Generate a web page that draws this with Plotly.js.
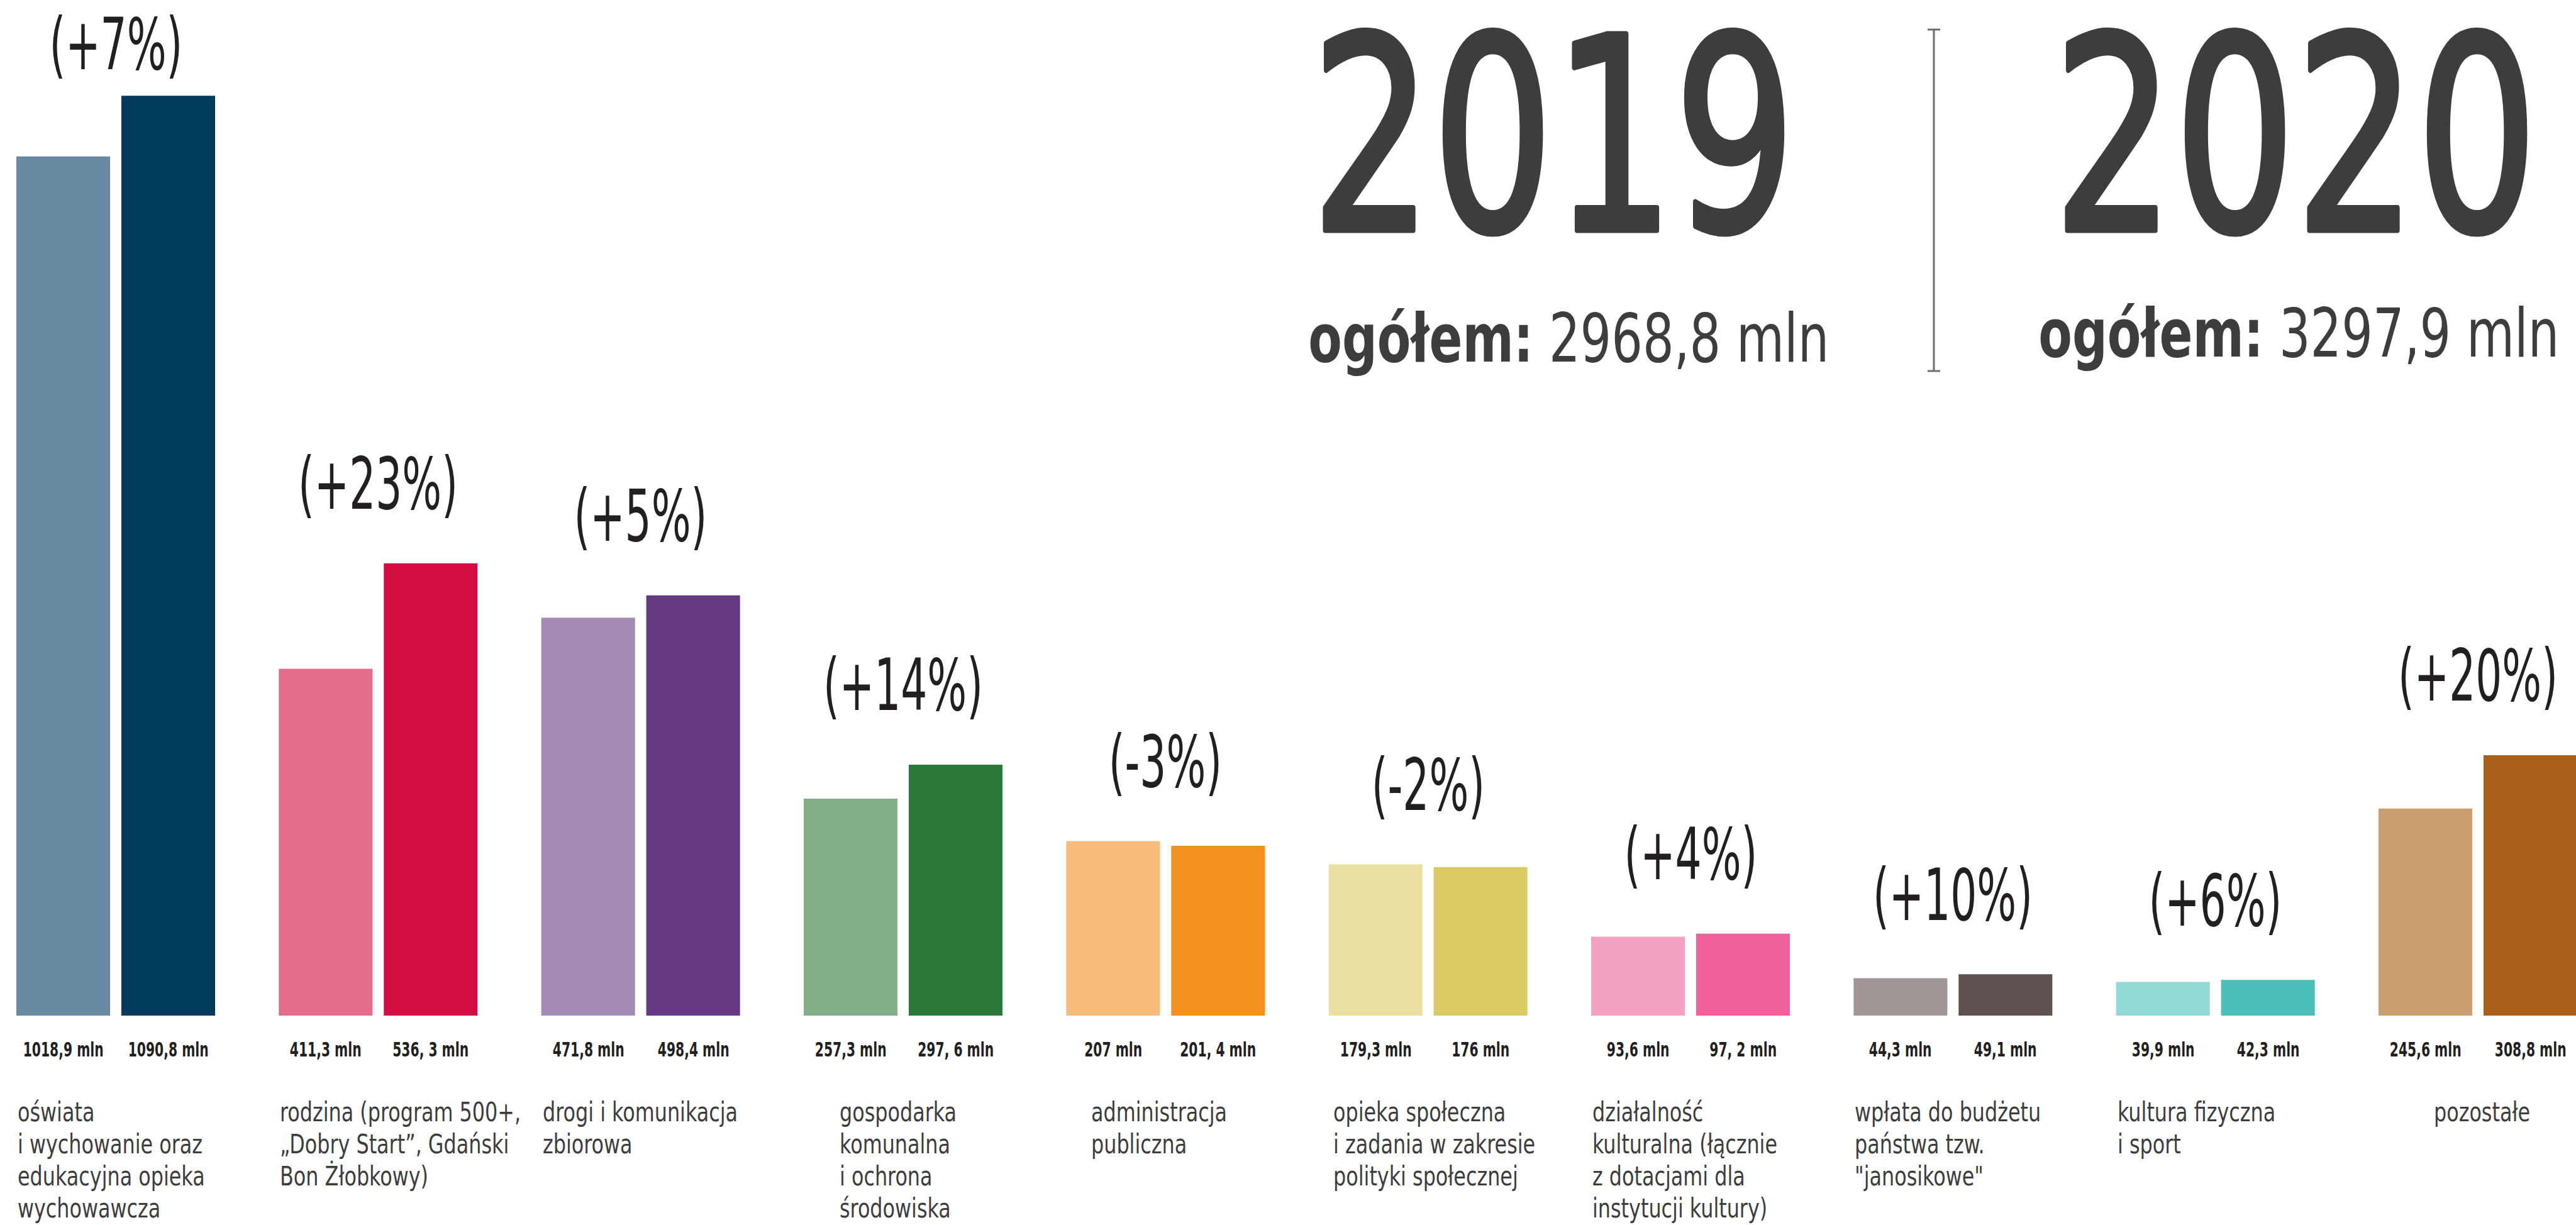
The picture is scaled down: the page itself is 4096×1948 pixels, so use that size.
<!DOCTYPE html>
<html>
<head>
<meta charset="utf-8">
<script src="https://cdn.plot.ly/plotly-3.0.1.min.js"></script>
<style>html,body{margin:0;padding:0;background:#fff;overflow:hidden}</style>
</head>
<body>
<div id="chart"></div>
<script>
// ---- DATA ----
const categories = [
  'oświata<br>i wychowanie oraz<br>edukacyjna opieka<br>wychowawcza',
  'rodzina (program 500+,<br>„Dobry Start”, Gdański<br>Bon Żłobkowy)',
  'drogi i komunikacja<br>zbiorowa',
  'gospodarka<br>komunalna<br>i ochrona<br>środowiska',
  'administracja<br>publiczna',
  'opieka społeczna<br>i zadania w zakresie<br>polityki społecznej',
  'działalność<br>kulturalna (łącznie<br>z dotacjami dla<br>instytucji kultury)',
  'wpłata do budżetu<br>państwa tzw.<br>"janosikowe"',
  'kultura fizyczna<br>i sport',
  'pozostałe'
];
const values2019 = [1018.9, 411.3, 471.8, 257.3, 207, 179.3, 93.6, 44.3, 39.9, 245.6];
const values2020 = [1090.8, 536.3, 498.4, 297.6, 201.4, 176, 97.2, 49.1, 42.3, 308.8];
const labels2019 = ['1018,9 mln','411,3 mln','471,8 mln','257,3 mln','207 mln','179,3 mln','93,6 mln','44,3 mln','39,9 mln','245,6 mln'];
const labels2020 = ['1090,8 mln','536, 3 mln','498,4 mln','297, 6 mln','201, 4 mln','176 mln','97, 2 mln','49,1 mln','42,3 mln','308,8 mln'];
const changes = ['(+7%)','(+23%)','(+5%)','(+14%)','(-3%)','(-2%)','(+4%)','(+10%)','(+6%)','(+20%)'];
const years = ['2019', '2020'];
const totals = ['2968,8 mln', '3297,9 mln'];
const colors2019 = ['#6889A0','#E46E8D','#A38BB5','#82AF88','#F7BB7A','#E8DFA0','#F4A0C2','#9F9695','#93D9D6','#CC9F73'];
const colors2020 = ['#003A5C','#D30E42','#663A82','#2A7837','#F58F20','#DACA63','#EF619B','#5E514F','#4BBFB8','#A8601B'];

// ---- LAYOUT / STYLE ----
const W = 4096, H = 1948;
const plotBottom = 1615;           // px from top where bars start
const pxPerMln = 1.341;
const yMax = plotBottom / pxPerMln;
const firstCenter = 184, lastCenter = 3940;
const pxPerUnit = (lastCenter - firstCenter) / (categories.length - 1);
const xRange = [-firstCenter / pxPerUnit, (W - firstCenter) / pxPerUnit];
const bargap = 0.2, bargroupgap = 0.107;
const slot = (1 - bargap) / 2;
const barW = slot * (1 - bargroupgap);
const barCenterShift = slot / 2 * pxPerUnit;
const barLeftShift = -(slot / 2 + barW / 2) * pxPerUnit;
const labelIndent = [0, 0, 0, 55, 38, 5, 0, 0, 0, 86];

const FONT = "'Noto Sans ExtraCondensed', 'Noto Sans Condensed', 'DejaVu Sans Condensed', 'Roboto', sans-serif";
const DARK = '#231f20', GREY = '#3d3d3d';

// target horizontal widths (px) of one sample text per text style, to condense the glyphs
const condense = {
  pct:   { sample: '(+10%)', width: 254 },
  val:   { sample: '1018,9 mln', width: 128 },
  cat:   { sample: 'i wychowanie oraz', width: 294 },
  year:  { sample: '2020', width: 770 },
  total: { sample: 'ogółem: 2968,8 mln', width: 828 }
};
const heavier = { year: 9 };   // extra outline (px) to match the heavier display weight

const py2paper = py => (plotBottom - py) / plotBottom;
const idx = categories.map((_, i) => i);

const traces = [
  { type: 'bar', name: years[0], x: idx, y: values2019, marker: { color: colors2019, line: { width: 0 } }, hoverinfo: 'skip' },
  { type: 'bar', name: years[1], x: idx, y: values2020, marker: { color: colors2020, line: { width: 0 } }, hoverinfo: 'skip' }
];

const annotations = [];
const annMeta = [];
function addAnn(cls, a) {
  a.showarrow = false;
  annotations.push(a);
  annMeta.push({ cls: cls, anchor: a.xanchor, color: a.font.color, plain: a.text.replace(/<[^>]+>/g, '') });
}

idx.forEach(i => {
  const top = Math.max(values2019[i], values2020[i]);
  const topPx = plotBottom - top * pxPerMln;
  const shift = Math.min(126, topPx - 70);
  addAnn('pct', { x: i, y: top, xref: 'x', yref: 'y', text: changes[i],
    xanchor: 'center', yanchor: 'middle', yshift: shift,
    font: { family: FONT, size: 114, color: DARK } });
  [[labels2019, -1], [labels2020, 1]].forEach(([lab, s]) => {
    addAnn('val', { x: i, y: 0, xref: 'x', yref: 'paper', text: '<b>' + lab[i] + '</b>',
      xanchor: 'center', yanchor: 'middle', xshift: s * barCenterShift, yshift: -54,
      font: { family: FONT, size: 32, color: DARK } });
  });
  categories[i].split('<br>').forEach((line, k) => {
    addAnn('cat', { x: i, y: 0, xref: 'x', yref: 'paper', text: line,
      xanchor: 'left', yanchor: 'middle', xshift: barLeftShift + labelIndent[i], yshift: -(1768 + k * 51 - plotBottom),
      font: { family: FONT, size: 42, color: GREY } });
  });
});

const yearX = [2470, 3650], totalX = [2494, 3655], totalY = [538, 530];
years.forEach((yr, j) => {
  addAnn('year', { x: yearX[j] / W, y: py2paper(218), xref: 'paper', yref: 'paper', text: yr,
    xanchor: 'center', yanchor: 'middle', font: { family: FONT, size: 428, color: GREY } });
  addAnn('total', { x: totalX[j] / W, y: py2paper(totalY[j]), xref: 'paper', yref: 'paper',
    text: '<b>ogółem:</b> ' + totals[j],
    xanchor: 'center', yanchor: 'middle', font: { family: FONT, size: 107, color: GREY } });
});

const divX = 3075 / W, capHalf = 10 / W;
const lineStyle = { color: '#6d6e71', width: 3 };
const shapes = [
  { type: 'line', xref: 'paper', yref: 'paper', x0: divX, x1: divX, y0: py2paper(47), y1: py2paper(590), line: lineStyle },
  { type: 'line', xref: 'paper', yref: 'paper', x0: divX - capHalf, x1: divX + capHalf, y0: py2paper(47), y1: py2paper(47), line: lineStyle },
  { type: 'line', xref: 'paper', yref: 'paper', x0: divX - capHalf, x1: divX + capHalf, y0: py2paper(590), y1: py2paper(590), line: lineStyle }
];

const layout = {
  width: W, height: H,
  margin: { l: 0, r: 0, t: 0, b: H - plotBottom, pad: 0 },
  paper_bgcolor: '#ffffff', plot_bgcolor: '#ffffff',
  barmode: 'group', bargap: bargap, bargroupgap: bargroupgap,
  showlegend: false,
  xaxis: { range: xRange, showgrid: false, zeroline: false, showticklabels: false, showline: false, ticks: '', fixedrange: true },
  yaxis: { range: [0, yMax], showgrid: false, zeroline: false, showticklabels: false, showline: false, ticks: '', fixedrange: true },
  annotations: annotations,
  shapes: shapes,
  font: { family: FONT, color: GREY }
};

Plotly.newPlot('chart', traces, layout, { displayModeBar: false, staticPlot: true }).then(gd => {
  const texts = {};
  gd.querySelectorAll('g.annotation').forEach(g => {
    texts[+g.getAttribute('data-index')] = g.querySelector('text.annotation-text');
  });
  const factor = {};
  Object.keys(condense).forEach(cls => {
    const k = annMeta.findIndex(m => m.cls === cls && m.plain === condense[cls].sample);
    const t = texts[k];
    const w = t ? t.getBBox().width : 0;
    factor[cls] = w > 0 ? condense[cls].width / w : 1;
  });
  annMeta.forEach((m, k) => {
    const t = texts[k];
    if (!t) return;
    t.style.transformBox = 'fill-box';
    t.style.transformOrigin = (m.anchor === 'left' ? 'left' : 'center') + ' center';
    t.style.transform = 'scaleX(' + factor[m.cls].toFixed(4) + ')';
    if (heavier[m.cls]) {
      t.style.stroke = m.color;
      t.style.strokeWidth = heavier[m.cls] + 'px';
      t.style.strokeLinejoin = 'round';
    }
  });
});
</script>
</body>
</html>
